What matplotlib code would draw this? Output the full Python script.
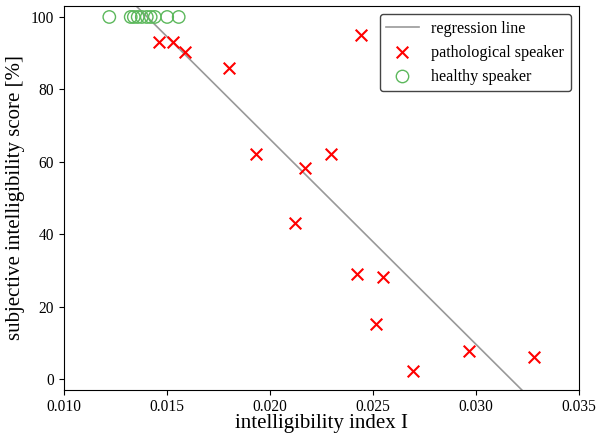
import numpy as np
import matplotlib
matplotlib.use("Agg")
import matplotlib.pyplot as plt

plt.rcParams["font.family"] = ["Liberation Serif", "DejaVu Serif"]
plt.rcParams["mathtext.fontset"] = "stix"

# datos
sano_x = [0.01220, 0.01324, 0.01339, 0.01358, 0.01378, 0.01402,
          0.01421, 0.01441, 0.01501, 0.01557]
sano_y = [100] * len(sano_x)

pato_x = [0.01460, 0.01527, 0.01586, 0.01802, 0.02442, 0.01931, 0.02170,
          0.02296, 0.02121, 0.02421, 0.02547, 0.02515, 0.02696, 0.02965, 0.03284]
pato_y = [93.0, 93.2, 90.4, 86.0, 95.0, 62.2, 58.2,
          62.2, 43.2, 29.1, 28.2, 15.3, 2.2, 7.8, 6.2]

# recta de regresion
ordenada = 179.5
pendiente = -5662.0

fig = plt.figure(figsize=(5.98, 4.36), dpi=100)
ax = fig.add_axes([0.107, 0.1055, 0.861, 0.8805])

xr = np.array([0.010, 0.035])
ax.plot(xr, ordenada + pendiente * xr, color="#999999", lw=1.2,
        label="regression line", zorder=2)
ax.scatter(pato_x, pato_y, marker="x", s=70, color="red", linewidths=1.5,
           label="pathological speaker", zorder=3)
ax.scatter(sano_x, sano_y, marker="o", s=80, facecolors="none",
           edgecolors="#5cb85c", linewidths=1.0, label="healthy speaker", zorder=3)

ax.set_xlim(0.010, 0.035)
ax.set_ylim(-3, 103)
ax.set_xticks([0.010, 0.015, 0.020, 0.025, 0.030, 0.035])
ax.set_xticklabels(["0.010", "0.015", "0.020", "0.025", "0.030", "0.035"])
ax.set_yticks([0, 20, 40, 60, 80, 100])
ax.tick_params(labelsize=11.2)
ax.tick_params(axis="x", pad=2.8)
ax.set_xlabel("intelligibility index I", fontsize=15, labelpad=-0.3)
ax.set_ylabel("subjective intelligibility score [%]", fontsize=15, labelpad=4)

leg = ax.legend(loc="upper right", fontsize=11.6, framealpha=1,
                edgecolor="#444444", fancybox=True)

fig.savefig("out.png", dpi=100)
